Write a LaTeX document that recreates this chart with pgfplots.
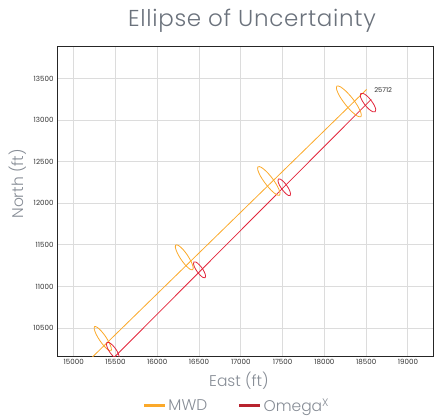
\documentclass[border=0pt]{standalone}
\usepackage{fontspec}
\usepackage{pgfplots}
\pgfplotsset{compat=1.18}
\setmainfont{Poppins}
\IfFontExistsTF{Poppins Light}{\newfontfamily\lightfont{Poppins Light}\newfontfamily\titlefont{Poppins Light}[LetterSpace=3]}{\newfontfamily\lightfont{Poppins}\newfontfamily\titlefont{Poppins}[LetterSpace=3]}
\definecolor{mwd}{HTML}{FBA92A}
\definecolor{omg}{HTML}{E2263C}
\definecolor{omgleg}{HTML}{B8232F}
\definecolor{gridgray}{HTML}{DCDCDC}
\definecolor{titlegray}{HTML}{6B727C}
\definecolor{labelgray}{HTML}{868C95}
\definecolor{ticktext}{HTML}{333333}

\pgfplotstableread{
x y
15171 10100
18505 13368
}\mwdline
\pgfplotstableread{
x y
15437 10100
18560 13248
}\omgline

\begin{document}
\begin{tikzpicture}
\path[use as bounding box] (0,0) rectangle (435pt,416pt);
\node[anchor=base, text=titlegray, font=\titlefont\fontsize{23}{27}\selectfont] at (252pt,389.5pt) {Ellipse of Uncertainty};
\begin{axis}[
  at={(57pt,60pt)}, anchor=south west,
  scale only axis, width=376pt, height=310pt,
  xmin=14800, xmax=19300, ymin=10164, ymax=13890,
  xtick={15000,15500,...,19000}, ytick={10500,11000,...,13500},
  scaled ticks=false,
  grid=major, major grid style={draw=gridgray, line width=1pt},
  tick style={draw=none},
  axis line style={draw=black!85, line width=0.8pt},
  ticklabel style={font=\fontsize{7.1}{8}\selectfont, text=ticktext},
  /pgf/number format/assume math mode=true,
  /pgf/number format/1000 sep={},
  xlabel={East (ft)}, ylabel={North (ft)},
  label style={font=\lightfont\fontsize{15.5}{18}\selectfont, text=labelgray},
  xlabel style={at={(axis description cs:0.484,-0.08)}, anchor=center},
  ylabel style={at={(axis description cs:-0.104,0.555)}, anchor=center},
  legend style={at={(axis description cs:0.479,-0.16)}, anchor=center, draw=none, fill=none,
    legend columns=2, font=\lightfont\fontsize{15.5}{18}\selectfont, text=labelgray,
    /tikz/every even column/.append style={column sep=29pt},
    inner sep=0pt},
  legend cell align=left,
  clip=true,
]
\addplot[mwd, line width=0.8pt, legend image code/.code={\draw[mwd, line width=2.3pt] (0pt,0pt) -- (21pt,0pt);}] table {\mwdline};
\addlegendentry{MWD}
\addplot[omg, line width=0.8pt, legend image code/.code={\draw[omgleg, line width=2.3pt] (0pt,0pt) -- (21pt,0pt);}] table {\omgline};
\addlegendentry{Omega\textsuperscript{X}}
% MWD ellipses
\addplot[mwd, line width=0.8pt, smooth cycle, forget plot] coordinates {(15446,10227) (15450,10258) (15427,10320) (15383,10396) (15329,10465) (15281,10509) (15250,10517) (15246,10486) (15269,10424) (15313,10349) (15367,10279) (15415,10235)};
\addplot[mwd, line width=0.8pt, smooth cycle, forget plot] coordinates {(16424,11201) (16429,11234) (16406,11298) (16361,11376) (16306,11447) (16255,11492) (16222,11499) (16217,11466) (16240,11402) (16285,11324) (16340,11253) (16391,11208)};
\addplot[mwd, line width=0.8pt, smooth cycle, forget plot] coordinates {(17464,12097) (17467,12136) (17435,12210) (17377,12299) (17307,12381) (17244,12432) (17206,12439) (17203,12400) (17235,12326) (17294,12237) (17364,12155) (17426,12104)};
\addplot[mwd, line width=0.8pt, smooth cycle, forget plot] coordinates {(18437,13040) (18439,13082) (18403,13162) (18337,13259) (18259,13346) (18191,13400) (18150,13408) (18147,13366) (18183,13286) (18249,13190) (18327,13102) (18395,13048)};
% Omega ellipses
\addplot[omg, line width=0.8pt, smooth cycle, forget plot] coordinates {(15537,10130) (15544,10154) (15531,10199) (15501,10251) (15462,10297) (15425,10325) (15399,10326) (15392,10302) (15405,10257) (15435,10205) (15474,10159) (15511,10131)};
\addplot[omg, line width=0.8pt, smooth cycle, forget plot] coordinates {(16573,11105) (16578,11128) (16565,11170) (16536,11221) (16498,11265) (16463,11293) (16439,11295) (16434,11272) (16447,11230) (16477,11179) (16514,11135) (16549,11107)};
\addplot[omg, line width=0.8pt, smooth cycle, forget plot] coordinates {(17590,12092) (17595,12116) (17581,12160) (17550,12213) (17511,12260) (17474,12289) (17450,12292) (17445,12268) (17459,12224) (17491,12171) (17530,12124) (17566,12095)};
\addplot[omg, line width=0.8pt, smooth cycle, forget plot] coordinates {(18608,13100) (18615,13129) (18596,13179) (18558,13238) (18510,13290) (18465,13320) (18436,13320) (18429,13291) (18448,13241) (18486,13182) (18534,13130) (18579,13100)};
\node[anchor=west, font=\fontsize{6.7}{8}\selectfont, text=ticktext] at (axis cs:18555,13360) {25712};
\end{axis}
\end{tikzpicture}
\end{document}
